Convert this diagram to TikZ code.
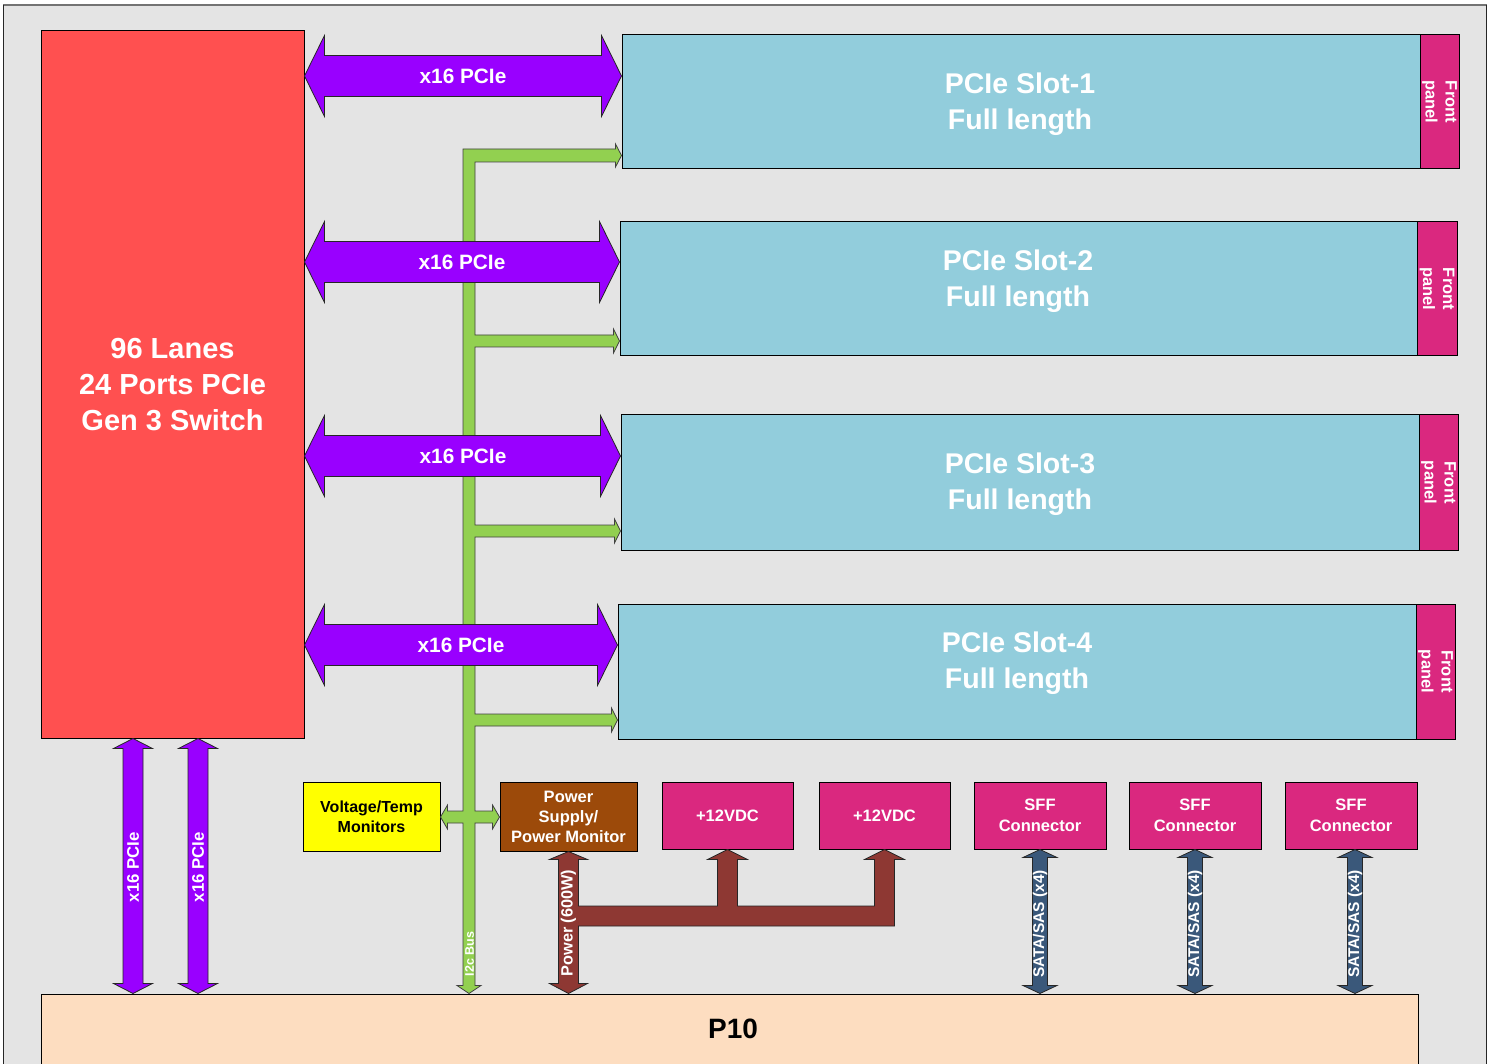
\documentclass[tikz,border=0pt]{standalone}
\usepackage{fontspec}
\setmainfont{Liberation Sans}
\usetikzlibrary{calc}
\definecolor{bgc}{HTML}{E4E4E4}
\definecolor{redc}{HTML}{FF5050}
\definecolor{slotc}{HTML}{92CDDC}
\definecolor{magc}{HTML}{DA287F}
\definecolor{purc}{HTML}{9900FF}
\definecolor{grnc}{HTML}{92D050}
\definecolor{yelc}{HTML}{FFFF00}
\definecolor{brnc}{HTML}{9C4A0A}
\definecolor{pwrc}{HTML}{8E3833}
\definecolor{satc}{HTML}{3A587A}
\definecolor{peachc}{HTML}{FDDDC0}
% horizontal double block arrow: style, left point, right point, y centre (px), half shaft, half head, head length
\newcommand\hdarrow[7]{%
 \path[#1] let \p1=(#2), \p2=(#3) in
  (\x1,-#4pt) -- (\x1+#7pt,-#4pt+#6pt) -- (\x1+#7pt,-#4pt+#5pt) -- (\x2-#7pt,-#4pt+#5pt) -- (\x2-#7pt,-#4pt+#6pt) -- (\x2,-#4pt)
  -- (\x2-#7pt,-#4pt-#6pt) -- (\x2-#7pt,-#4pt-#5pt) -- (\x1+#7pt,-#4pt-#5pt) -- (\x1+#7pt,-#4pt-#6pt) -- cycle;}
% vertical double block arrow: style, top point, bottom point, x centre (px), half shaft, half head, head length
\newcommand\vdarrow[7]{%
 \path[#1] let \p1=(#2), \p2=(#3) in
  (#4pt,\y1) -- (#4pt+#6pt,\y1-#7pt) -- (#4pt+#5pt,\y1-#7pt) -- (#4pt+#5pt,\y2+#7pt) -- (#4pt+#6pt,\y2+#7pt) -- (#4pt,\y2)
  -- (#4pt-#6pt,\y2+#7pt) -- (#4pt-#5pt,\y2+#7pt) -- (#4pt-#5pt,\y1-#7pt) -- (#4pt-#6pt,\y1-#7pt) -- cycle;}
\tikzset{
 fsz/.style 2 args={font=\bfseries\fontsize{#1pt}{#2pt}\selectfont},
 box/.style={draw=black, line width=1pt, inner sep=0pt, align=center, text=white},
 arr/.style={draw=black!85, line width=0.8pt, line join=miter},
 wlab/.style={text=white, inner sep=0pt, align=center},
}
\begin{document}
\begin{tikzpicture}[x=1pt,y=-1pt]
\useasboundingbox (0,0) rectangle (1492,1064);
% panel
\fill[bgc] (3,5) rectangle (1487,1070);
\draw[black!55, line width=2pt] (3,5) -- (1487,5);
\draw[black!85, line width=1.5pt] (3.5,5) -- (3.5,1070);
\draw[black!85, line width=1.5pt] (1486.5,5) -- (1486.5,1070);

% switch
\node[box, fill=redc, fsz={29}{36}, minimum width=263, minimum height=707] (sw) at (172.5,384.5)
  {96 Lanes\\24 Ports PCIe\\Gen 3 Switch};

% slots
\node[box, fill=slotc, minimum width=798, minimum height=134] (slot1) at (1021,102) {};
\node[wlab, fsz={28.5}{36}] (slot1t) at (1020,104) {PCIe Slot-1\\Full length};
\node[box, fill=magc, minimum width=39, minimum height=134] (fp1) at (1439.5,102) {};
\node[wlab, fsz={16.5}{20}, rotate=-90] (fp1t) at (fp1.center) {Front\\panel};
\node[box, fill=slotc, minimum width=797, minimum height=134] (slot2) at (1018.5,289) {};
\node[wlab, fsz={28.5}{36}] (slot2t) at (1018,281) {PCIe Slot-2\\Full length};
\node[box, fill=magc, minimum width=40, minimum height=134] (fp2) at (1437,289) {};
\node[wlab, fsz={16.5}{20}, rotate=-90] (fp2t) at (fp2.center) {Front\\panel};
\node[box, fill=slotc, minimum width=798, minimum height=135] (slot3) at (1020,482.5) {};
\node[wlab, fsz={28.5}{36}] (slot3t) at (1020,484.5) {PCIe Slot-3\\Full length};
\node[box, fill=magc, minimum width=39, minimum height=135] (fp3) at (1438.5,482.5) {};
\node[wlab, fsz={16.5}{20}, rotate=-90] (fp3t) at (fp3.center) {Front\\panel};
\node[box, fill=slotc, minimum width=798, minimum height=135] (slot4) at (1017,671.5) {};
\node[wlab, fsz={28.5}{36}] (slot4t) at (1017,663.5) {PCIe Slot-4\\Full length};
\node[box, fill=magc, minimum width=39, minimum height=135] (fp4) at (1435.5,671.5) {};
\node[wlab, fsz={16.5}{20}, rotate=-90] (fp4t) at (fp4.center) {Front\\panel};

% lower boxes
\node[box, fill=yelc, text=black, fsz={16}{20}, minimum width=137, minimum height=69] (vt) at (371.5,816.5) {Voltage/Temp\\Monitors};
\node[box, fill=brnc, fsz={16.5}{20}, minimum width=137, minimum height=69] (ps) at (568.5,816.5) {Power\\Supply/\\Power Monitor};
\node[box, fill=magc, fsz={16.5}{20}, minimum width=131, minimum height=67] (v1) at (727.5,815.5) {+12VDC};
\node[box, fill=magc, fsz={16.5}{20}, minimum width=131, minimum height=67] (v2) at (884.5,815.5) {+12VDC};
\node[box, fill=magc, fsz={16.5}{21}, minimum width=132, minimum height=67] (sff1) at (1040,815.5) {SFF\\Connector};
\node[box, fill=magc, fsz={16.5}{21}, minimum width=132, minimum height=67] (sff2) at (1195,815.5) {SFF\\Connector};
\node[box, fill=magc, fsz={16.5}{21}, minimum width=132, minimum height=67] (sff3) at (1351,815.5) {SFF\\Connector};

% P10
\node[box, fill=peachc, minimum width=1377, minimum height=80] (p10) at (729.5,1034) {};
\node[fsz={28}{32}, inner sep=0pt] (p10t) at (733,1029) {P10};

% I2C bus (green), drawn behind the PCIe arrows
\path[arr, draw=black!75, fill=grnc] let \p1=(slot1.west), \p2=(slot2.west), \p3=(slot3.west), \p4=(slot4.west),
   \p5=(vt.east), \p6=(ps.west), \p7=(p10.north) in
 (463pt,-149pt) -- (\x1-6pt,-149pt) -- (\x1-6pt,-144pt) -- (\x1,-155.5pt) -- (\x1-6pt,-167pt) -- (\x1-6pt,-162pt) -- (475pt,-162pt)
 -- (475pt,-335pt) -- (\x2-6pt,-335pt) -- (\x2-6pt,-329pt) -- (\x2,-341pt) -- (\x2-6pt,-353pt) -- (\x2-6pt,-347pt) -- (475pt,-347pt)
 -- (475pt,-525pt) -- (\x3-6pt,-525pt) -- (\x3-6pt,-519pt) -- (\x3,-531pt) -- (\x3-6pt,-543pt) -- (\x3-6pt,-537pt) -- (475pt,-537pt)
 -- (475pt,-714pt) -- (\x4-6pt,-714pt) -- (\x4-6pt,-708pt) -- (\x4,-720pt) -- (\x4-6pt,-732pt) -- (\x4-6pt,-726pt) -- (475pt,-726pt)
 -- (475pt,-811pt) -- (\x6-7pt,-811pt) -- (\x6-7pt,-805pt) -- (\x6,-817pt) -- (\x6-7pt,-829pt) -- (\x6-7pt,-823pt) -- (475pt,-823pt)
 -- (475pt,\y7+8pt) -- (481pt,\y7+8pt) -- (469pt,\y7) -- (457pt,\y7+8pt) -- (463pt,\y7+8pt)
 -- (463pt,-823pt) -- (\x5+7pt,-823pt) -- (\x5+7pt,-829pt) -- (\x5,-817pt) -- (\x5+7pt,-805pt) -- (\x5+7pt,-811pt) -- (463pt,-811pt) -- cycle;
\node[wlab, fsz={12.5}{14}, rotate=90] (i2c) at (469.5,954) {I2c Bus};

% purple horizontal x16 arrows
\hdarrow{arr, fill=purc}{sw.east}{slot1.west}{76}{20.5}{40.5}{20}
\hdarrow{arr, fill=purc}{sw.east}{slot2.west}{262}{20.5}{40.5}{20}
\hdarrow{arr, fill=purc}{sw.east}{slot3.west}{456}{20.5}{40.5}{20}
\hdarrow{arr, fill=purc}{sw.east}{slot4.west}{645}{20.5}{40.5}{20}
\node[wlab, fsz={20.8}{24}] (l1) at (463,76) {x16 PCIe};
\node[wlab, fsz={20.8}{24}] (l2) at (462,262) {x16 PCIe};
\node[wlab, fsz={20.8}{24}] (l3) at (463,456) {x16 PCIe};
\node[wlab, fsz={20.8}{24}] (l4) at (461,645) {x16 PCIe};

% purple vertical arrows to P10
\vdarrow{arr, fill=purc}{sw.south}{p10.north}{133}{10}{19.5}{10}
\vdarrow{arr, fill=purc}{sw.south}{p10.north}{198}{10}{19.5}{10}
\node[wlab, fsz={16.8}{20}, rotate=90] (l5) at (133,867) {x16 PCIe};
\node[wlab, fsz={16.8}{20}, rotate=90] (l6) at (198,867) {x16 PCIe};

% SATA/SAS arrows
\vdarrow{arr, fill=satc}{sff1.south}{p10.north}{1040}{7.5}{17}{8}
\vdarrow{arr, fill=satc}{sff2.south}{p10.north}{1195}{7.5}{17}{8}
\vdarrow{arr, fill=satc}{sff3.south}{p10.north}{1355}{7.5}{17}{8}
\node[wlab, fsz={15.5}{18}, rotate=90] (s1) at (1040,924) {SATA/SAS (x4)};
\node[wlab, fsz={15.5}{18}, rotate=90] (s2) at (1195,924) {SATA/SAS (x4)};
\node[wlab, fsz={15.5}{18}, rotate=90] (s3) at (1355,924) {SATA/SAS (x4)};

% power distribution (brown)
\path[arr, fill=pwrc] let \p1=(ps.south), \p2=(p10.north), \p3=(v1.south), \p4=(v2.south) in
 (568.5pt,\y1) -- (587.5pt,\y1-8pt) -- (578.5pt,\y1-8pt) -- (578.5pt,-906pt)
 -- (\x3-10pt,-906pt) -- (\x3-10pt,\y3-10pt) -- (\x3-20pt,\y3-10pt) -- (\x3,\y3) -- (\x3+20pt,\y3-10pt) -- (\x3+10pt,\y3-10pt) -- (\x3+10pt,-906pt)
 -- (\x4-10pt,-906pt) -- (\x4-10pt,\y4-10pt) -- (\x4-20pt,\y4-10pt) -- (\x4,\y4) -- (\x4+20pt,\y4-10pt) -- (\x4+10pt,\y4-10pt) -- (\x4+10pt,-926pt)
 -- (578.5pt,-926pt) -- (578.5pt,\y2+10pt) -- (587.5pt,\y2+10pt) -- (568.5pt,\y2) -- (549.5pt,\y2+10pt) -- (558.5pt,\y2+10pt)
 -- (558.5pt,\y1-8pt) -- (549.5pt,\y1-8pt) -- cycle;
\node[wlab, fsz={16.3}{18}, rotate=90] (pw) at (568.5,923) {Power (600W)};
\end{tikzpicture}
\end{document}
